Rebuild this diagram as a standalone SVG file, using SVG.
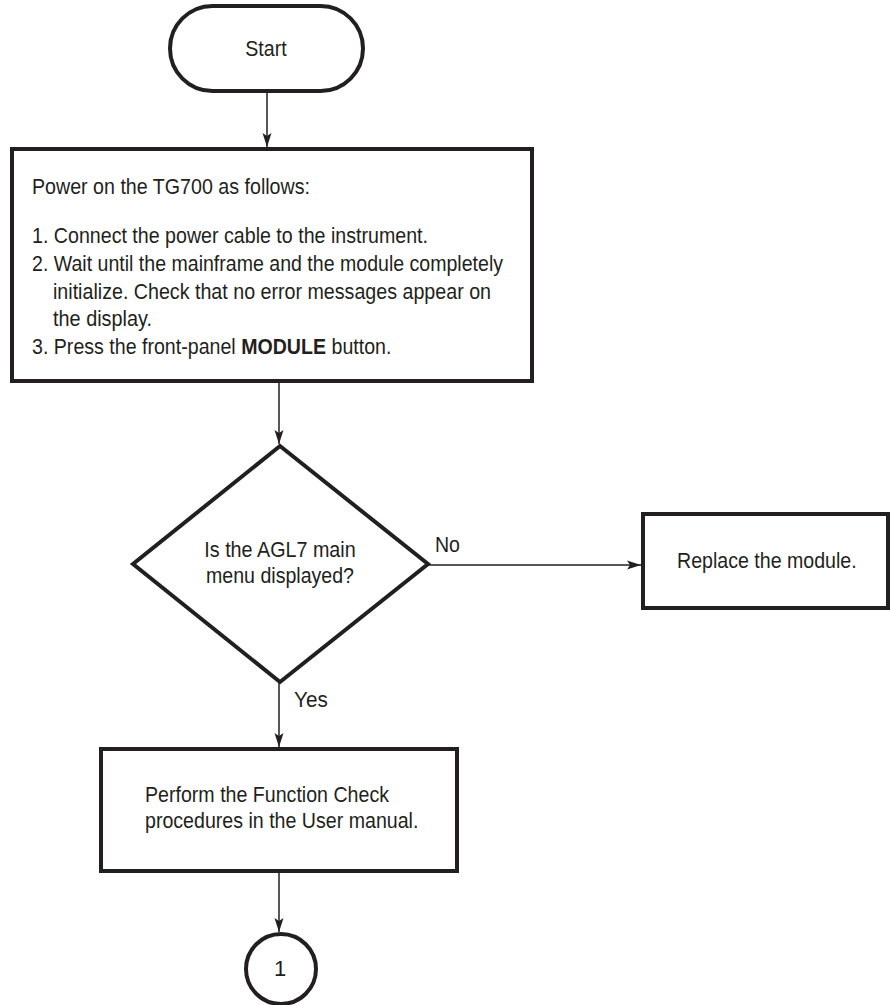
<svg xmlns="http://www.w3.org/2000/svg" width="890" height="1005" viewBox="0 0 890 1005">
<style>
.shape{fill:#fff;stroke:#231f20;stroke-width:4}
.conn{fill:none;stroke:#231f20;stroke-width:1.5}
text{font-family:"Liberation Sans",Arial,sans-serif;font-size:22px;fill:#231f20}
.b{font-weight:bold}
.m{text-anchor:middle}
</style>
<defs>
<marker id="arr" markerUnits="userSpaceOnUse" markerWidth="16" markerHeight="10" refX="14" refY="5" orient="auto">
<path d="M0,0.5 L14,5 L0,9.5 L3,5 z" fill="#231f20"/>
</marker>
</defs>
<rect width="890" height="1005" fill="#fff"/>
<g id="connectors">
<line class="conn" x1="267" y1="91" x2="267" y2="147" marker-end="url(#arr)"/>
<line class="conn" x1="279" y1="381" x2="279" y2="444" marker-end="url(#arr)"/>
<line class="conn" x1="428" y1="565" x2="641" y2="565" marker-end="url(#arr)"/>
<line class="conn" x1="279" y1="682" x2="279" y2="747" marker-end="url(#arr)"/>
<line class="conn" x1="279" y1="871" x2="279" y2="932" marker-end="url(#arr)"/>
<text x="435" y="552" textLength="25" lengthAdjust="spacingAndGlyphs">No</text>
<text x="294" y="707" textLength="33.8" lengthAdjust="spacingAndGlyphs">Yes</text>
</g>
<g id="start">
<rect class="shape" x="170" y="6" width="193" height="85" rx="42.5" ry="42.5"/>
<text class="m" x="266" y="56" textLength="41.4" lengthAdjust="spacingAndGlyphs">Start</text>
</g>
<g id="power-on">
<rect class="shape" x="12" y="149" width="520" height="232"/>
<text x="32" y="194" textLength="278" lengthAdjust="spacingAndGlyphs">Power on the TG700 as follows:</text>
<text x="32" y="243" textLength="396" lengthAdjust="spacingAndGlyphs">1. Connect the power cable to the instrument.</text>
<text x="32" y="271" textLength="471" lengthAdjust="spacingAndGlyphs">2. Wait until the mainframe and the module completely</text>
<text x="53" y="298.5" textLength="438" lengthAdjust="spacingAndGlyphs">initialize. Check that no error messages appear on</text>
<text x="53" y="326" textLength="99" lengthAdjust="spacingAndGlyphs">the display.</text>
<text transform="translate(32,354) scale(0.891,1)">3. Press the front-panel <tspan class="b">MODULE</tspan> button.</text>
</g>
<g id="decision">
<polygon class="shape" points="280,446 428,564 280,682 133,564"/>
<text class="m" x="280" y="557" textLength="151.4" lengthAdjust="spacingAndGlyphs">Is the AGL7 main</text>
<text class="m" x="280" y="583" textLength="148" lengthAdjust="spacingAndGlyphs">menu displayed?</text>
</g>
<g id="replace">
<rect class="shape" x="643" y="514" width="245" height="94"/>
<text x="677" y="568" textLength="179.7" lengthAdjust="spacingAndGlyphs">Replace the module.</text>
</g>
<g id="function-check">
<rect class="shape" x="101" y="749" width="356" height="122"/>
<text x="145" y="802" textLength="244" lengthAdjust="spacingAndGlyphs">Perform the Function Check</text>
<text x="145" y="828" textLength="273.4" lengthAdjust="spacingAndGlyphs">procedures in the User manual.</text>
</g>
<g id="connector-1">
<circle class="shape" cx="281" cy="969" r="35" stroke-width="3.5"/>
<text class="m" x="280" y="976">1</text>
</g>
</svg>
